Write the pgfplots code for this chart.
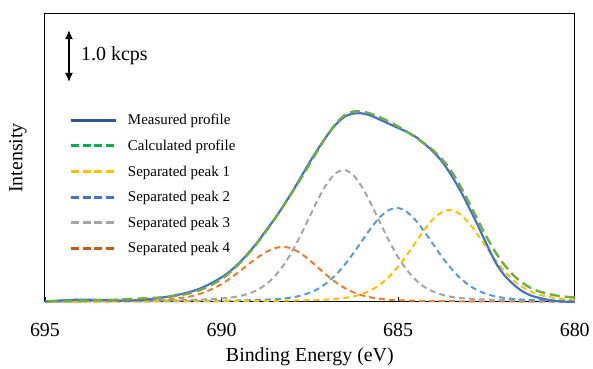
\documentclass[border=0pt]{standalone}
\usepackage{fontspec}
\setmainfont{Liberation Serif}
\usepackage{pgfplots}
\pgfplotsset{compat=1.18}
\usepackage{pgfplotstable}
\usetikzlibrary{arrows.meta}

\definecolor{measc}{HTML}{4472C4}
\definecolor{calcc}{HTML}{70AD47}
\definecolor{p1c}{HTML}{FFC000}
\definecolor{p2c}{HTML}{5B9BD5}
\definecolor{p3c}{HTML}{A5A5A5}
\definecolor{p4c}{HTML}{ED7D31}
\definecolor{legmeas}{HTML}{2F5597}
\definecolor{legcalc}{HTML}{00B050}
\definecolor{legp2}{HTML}{4472C4}
\definecolor{legp4}{HTML}{C55A11}

\pgfplotstableread{
E p1 p2 p3 p4 calc
680 2.2 1.1 0.9 0.2 4.4
680.5 3.6 1.3 1.0 0.25 6.2
681 7.1 1.7 1.2 0.3 10.3
681.25 10.3 2.0 1.35 0.33 14.0
681.5 15.3 2.35 1.5 0.35 19.5
681.75 22.1 3.0 1.65 0.38 27.1
682 31.2 4.0 1.8 0.4 37.4
682.25 42.1 5.5 2.0 0.43 50.0
682.5 54.6 7.9 2.3 0.46 65.3
682.75 67.4 11.5 2.7 0.5 82.1
683 79.1 16.8 3.2 0.55 99.7
683.25 87.8 24.1 3.9 0.6 116.4
683.5 91.9 33.4 5.1 0.66 131.1
683.75 90.0 44.6 7.1 0.73 142.4
684 83.1 57.2 10.2 0.8 151.3
684.25 72.4 69.9 14.8 0.95 158.1
684.5 59.8 81.4 21.9 1.1 164.2
684.75 47.0 89.9 31.8 1.35 170.1
685 35.3 93.9 44.7 1.6 175.5
685.25 25.5 92.1 60.5 2.1 180.2
685.5 17.7 85.3 78.4 3.0 184.4
685.75 12.1 74.8 96.8 4.3 188.0
686 8.2 62.3 113.5 6.3 190.3
686.25 5.6 49.5 126.0 9.4 190.5
686.5 4.0 37.7 131.8 13.6 187.1
686.75 3.1 27.5 129.1 19.2 178.9
687 2.3 19.5 119.2 26.0 167.0
687.25 2.0 13.4 103.8 33.7 152.9
687.5 1.7 9.2 85.8 41.5 138.2
687.75 1.5 6.4 67.4 48.3 123.6
688 1.3 4.5 50.6 53.2 109.6
688.25 1.2 3.3 36.5 55.0 96.0
688.5 1.06 2.6 25.4 53.6 82.7
688.75 1.0 2.2 17.3 49.6 70.1
689 0.9 1.8 11.7 43.9 58.3
689.25 0.85 1.6 8.1 37.2 47.8
689.5 0.8 1.4 5.7 30.2 38.1
689.75 0.7 1.25 4.3 23.6 29.9
690 0.63 1.1 3.4 17.8 22.9
690.25 0.6 1.05 2.9 13.1 17.7
690.5 0.55 1.0 2.4 9.4 13.4
690.75 0.5 0.9 2.1 6.6 10.1
691 0.48 0.8 1.8 4.7 7.8
691.5 0.42 0.7 1.5 2.4 5.0
692 0.37 0.6 1.3 1.5 3.8
692.5 0.33 0.52 1.1 1.1 3.1
693 0.3 0.45 0.9 0.8 2.2
694 0.26 0.36 0.7 0.6 1.2
695 0.2 0.3 0.5 0.4 0.6
}\comp

\pgfplotstableread{
E meas
680 0
680.25 0.2
680.5 0.7
680.75 2
681 4
681.25 6.5
681.5 11
681.75 18
682 27
682.25 40
682.5 58
682.75 77
683 95
683.25 112
683.5 127
683.75 140
684 150
684.25 158
684.5 165
684.75 170
685 174
685.25 178
685.5 182
685.75 186
686 188.5
686.25 188.5
686.5 185.5
686.75 178
687 167
687.25 154
687.5 140
687.75 125
688 110
688.25 96
688.5 83
688.75 71
689 59
689.25 48.5
689.5 39
689.75 31
690 24.5
690.25 19.5
690.5 15
690.75 11.5
691 9
691.25 7
691.5 5.3
691.75 4
692 2.8
692.5 1.5
693 1.5
693.5 2.0
694 2.2
694.5 1.5
695 0.3
}\meas

\begin{document}
\begin{tikzpicture}
\begin{axis}[
  scale only axis, width=530bp, height=288bp,
  xmin=680, xmax=695, x dir=reverse, ymin=0, ymax=288,
  xtick={680,685,690,695}, ytick=\empty,
  tick align=inside, xtick pos=lower,
  major tick length=5bp,
  tick style={black, line width=0.8bp},
  axis line style={black, line width=1bp},
  /pgf/number format/assume math mode=true,
  ticklabel style={font=\fontsize{20}{24}\selectfont},
  xticklabel style={yshift=-18bp},
  xlabel={Binding Energy (eV)}, ylabel={Intensity},
  label style={font=\fontsize{20}{24}\selectfont},
  xlabel style={at={(axis description cs:0.5,-0.19)}, anchor=center},
  ylabel style={at={(axis description cs:-0.051,0.5)}, anchor=center},
  clip=false,
  legend style={draw=none, fill=none, at={(axis description cs:0.045,0.66)}, anchor=north west,
    font=\fontsize{15}{18}\selectfont, row sep=9.8bp, inner sep=0pt, cells={anchor=west}},
  legend image code/.code={\draw[#1] (0bp,0bp) -- (46bp,0bp); \path (54bp,0bp);},
]
\path (axis description cs:0,0) ++(-45bp,-65bp);
\path (axis description cs:1,1) ++(18bp,14bp);

\addplot[p4c, line width=2bp, dash pattern=on 6bp off 4bp, smooth, forget plot] table[x=E,y=p4]{\comp};
\addplot[p3c, line width=2bp, dash pattern=on 6bp off 4bp, smooth, forget plot] table[x=E,y=p3]{\comp};
\addplot[p2c, line width=2bp, dash pattern=on 6bp off 4bp, smooth, forget plot] table[x=E,y=p2]{\comp};
\addplot[p1c, line width=2bp, dash pattern=on 6bp off 4bp, smooth, forget plot] table[x=E,y=p1]{\comp};
\addplot[measc, line width=2.2bp, smooth, forget plot] table[x=E,y=meas]{\meas};
\addplot[calcc, line width=2.4bp, dash pattern=on 10bp off 5bp, smooth, forget plot] table[x=E,y=calc]{\comp};

\addlegendimage{legmeas, line width=3bp}
\addlegendentry{Measured profile}
\addlegendimage{legcalc, line width=3bp, dash pattern=on 8bp off 4bp}
\addlegendentry{Calculated profile}
\addlegendimage{p1c, line width=3bp, dash pattern=on 8bp off 4bp}
\addlegendentry{Separated peak 1}
\addlegendimage{legp2, line width=3bp, dash pattern=on 8bp off 4bp}
\addlegendentry{Separated peak 2}
\addlegendimage{p3c, line width=3bp, dash pattern=on 8bp off 4bp}
\addlegendentry{Separated peak 3}
\addlegendimage{legp4, line width=3bp, dash pattern=on 8bp off 4bp}
\addlegendentry{Separated peak 4}

\draw[line width=1.5bp, {Latex[length=9bp,width=8bp]}-{Latex[length=9bp,width=8bp]}]
  (axis description cs:0.0453,0.944) -- (axis description cs:0.0453,0.764);
\node[anchor=west, font=\fontsize{20}{24}\selectfont, inner sep=0pt] at (axis description cs:0.068,0.854) {1.0 kcps};
\end{axis}
\end{tikzpicture}
\end{document}
